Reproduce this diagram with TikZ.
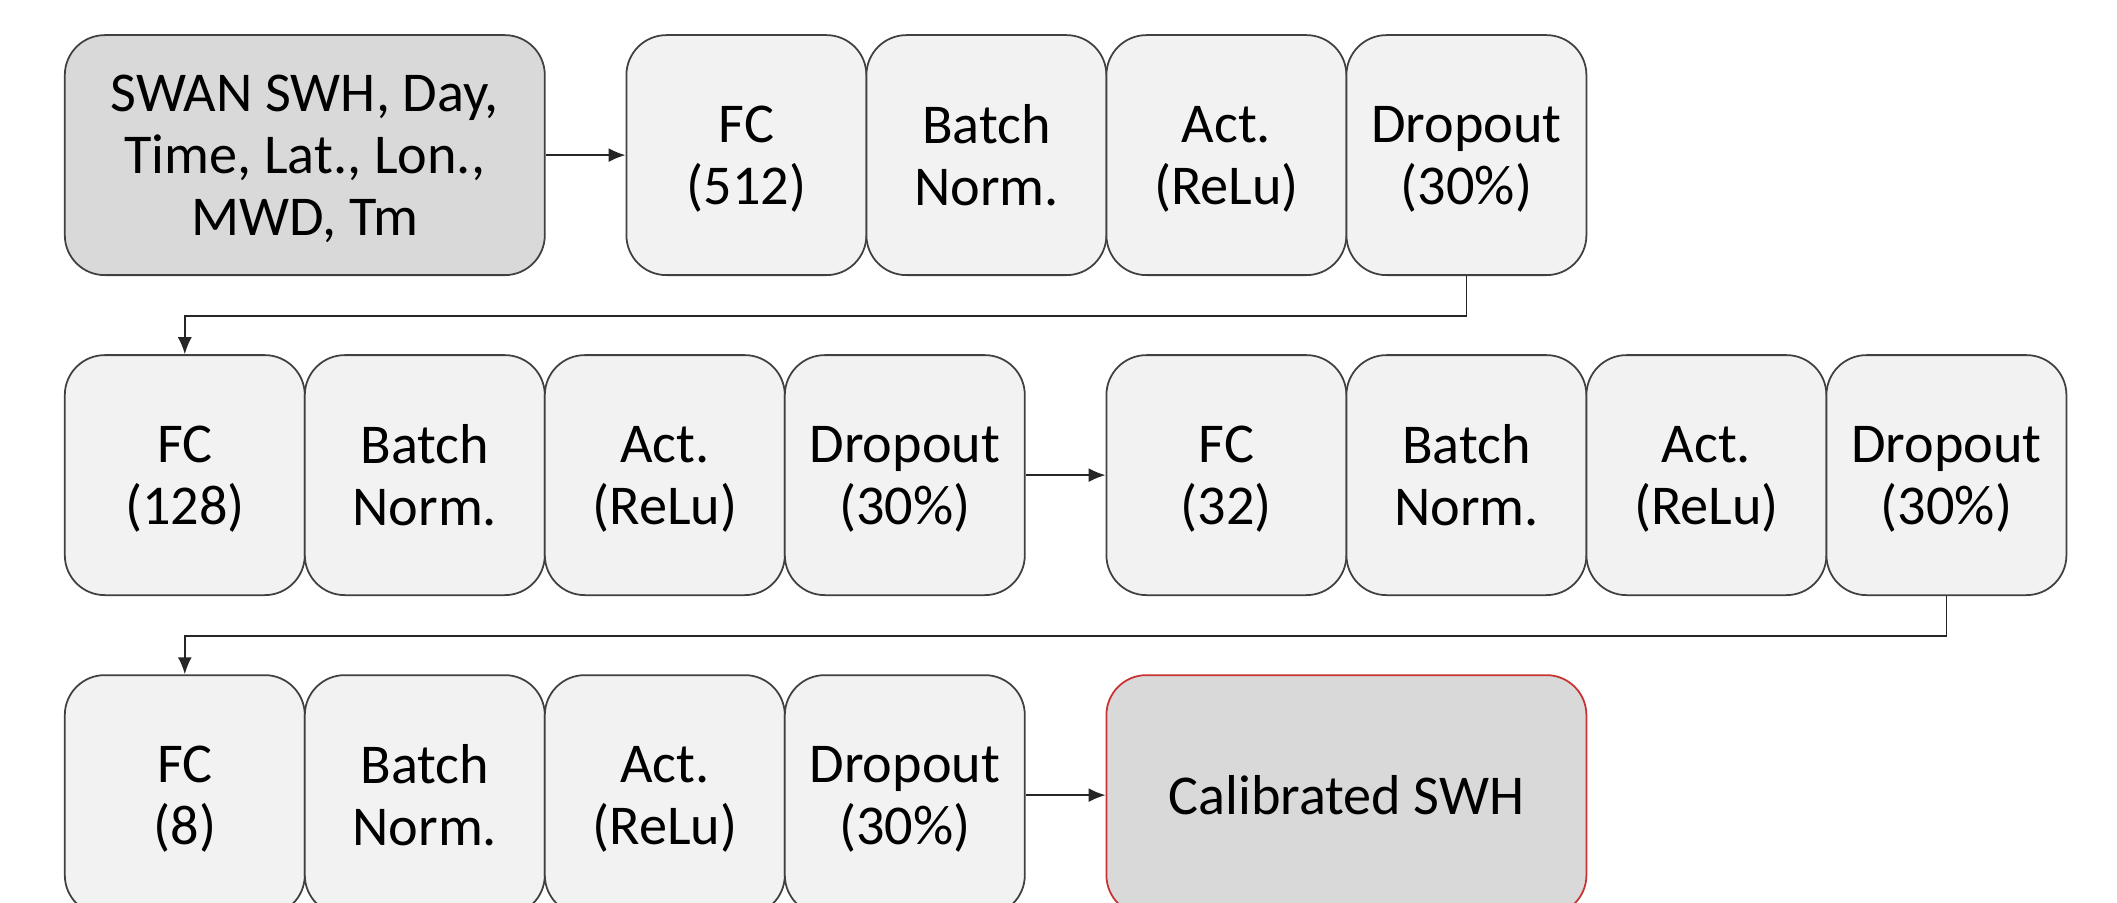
\documentclass[tikz,border=0pt]{standalone}
\usepackage{fontspec}
\setmainfont{Carlito}
\usetikzlibrary{arrows.meta}
\definecolor{layergray}{RGB}{242,242,242}
\definecolor{iogray}{RGB}{217,217,217}
\definecolor{edgegray}{RGB}{64,64,64}
\definecolor{outred}{RGB}{200,50,50}
\tikzset{
	layer/.style={draw=edgegray, fill=layergray, line width=0.5pt, rounded corners=0.4cm,
		minimum width=2.4cm, minimum height=2.4cm, inner sep=0pt, align=center,
		text depth=0pt, font=\fontsize{16}{17.6}\selectfont},
	iobox/.style={layer, fill=iogray, minimum width=4.8cm},
	link/.style={-{Latex[length=1.7mm,width=1.4mm]}, line width=0.5pt, draw=black!85},
}
\begin{document}
\begin{tikzpicture}% three rows of layers, top to bottom
	\clip (0,0) rectangle (21.17,-9.02);
	% row 1
	\node[iobox] (inp) at (3.048,-1.551) {SWAN SWH, Day,\\Time, Lat., Lon.,\\MWD, Tm};
	\node[layer] (fc1) at (7.464,-1.551) {FC\\(512)};
	\node[layer] (bn1) at (9.864,-1.551) {Batch\\Norm.};
	\node[layer] (act1) at (12.264,-1.551) {Act.\\(ReLu)};
	\node[layer] (drop1) at (14.664,-1.551) {Dropout\\(30\%)};
	% row 2
	\node[layer] (fc2) at (1.848,-4.751) {FC\\(128)};
	\node[layer] (bn2) at (4.248,-4.751) {Batch\\Norm.};
	\node[layer] (act2) at (6.648,-4.751) {Act.\\(ReLu)};
	\node[layer] (drop2) at (9.048,-4.751) {Dropout\\(30\%)};
	\node[layer] (fc3) at (12.264,-4.751) {FC\\(32)};
	\node[layer] (bn3) at (14.664,-4.751) {Batch\\Norm.};
	\node[layer] (act3) at (17.064,-4.751) {Act.\\(ReLu)};
	\node[layer] (drop3) at (19.464,-4.751) {Dropout\\(30\%)};
	% row 3
	\node[layer] (fc4) at (1.848,-7.951) {FC\\(8)};
	\node[layer] (bn4) at (4.248,-7.951) {Batch\\Norm.};
	\node[layer] (act4) at (6.648,-7.951) {Act.\\(ReLu)};
	\node[layer] (drop4) at (9.048,-7.951) {Dropout\\(30\%)};
	\node[iobox, draw=outred] (out) at (13.464,-7.951) {Calibrated SWH};
	% connectors
	\draw[link] (inp) -- (fc1);
	\draw[link] (drop1.south) -- ++(0,-0.4) -| (fc2.north);
	\draw[link] (drop2) -- (fc3);
	\draw[link] (drop3.south) -- ++(0,-0.4) -| (fc4.north);
	\draw[link] (drop4) -- (out);
\end{tikzpicture}
\end{document}
